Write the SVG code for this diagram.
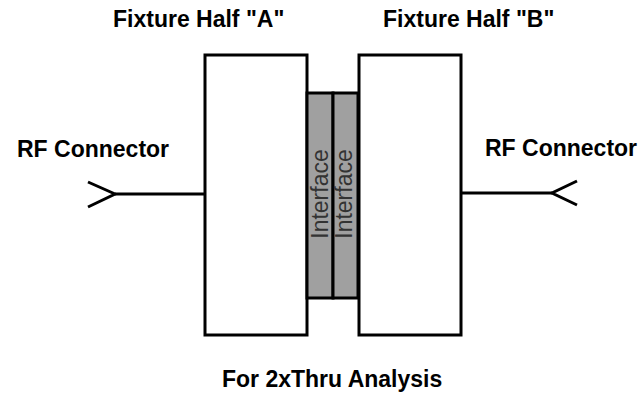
<svg xmlns="http://www.w3.org/2000/svg" width="641" height="395" viewBox="0 0 641 395">
<style>
.box{fill:#fff;stroke:#000;stroke-width:3}
.intf{fill:#a0a0a0;stroke:#000;stroke-width:3}
.wire{fill:none;stroke:#000;stroke-width:3}
.lbl{font-family:"Liberation Sans",Arial,sans-serif;font-weight:bold;font-size:23px;fill:#000}
.itxt{font-family:"Liberation Sans",Arial,sans-serif;font-size:23px;fill:#333;text-anchor:middle}
</style>
<rect width="641" height="395" fill="#fff"/>
<g id="connectors">
<path class="wire" d="M115,194 H205"/>
<path class="wire" d="M88,182 L115,194 L88,207"/>
<path class="wire" d="M461,193 H552"/>
<path class="wire" d="M577,181 L552,193 L577,205"/>
</g>
<g id="fixtureA">
<rect class="box" x="205" y="55" width="102" height="280"/>
<text class="lbl" x="113" y="27">Fixture Half "A"</text>
</g>
<g id="interfaceA">
<rect class="intf" x="307" y="93" width="26" height="205"/>
<text class="itxt" transform="translate(328,194) rotate(-90)">Interface</text>
</g>
<g id="interfaceB">
<rect class="intf" x="333" y="93" width="25" height="205"/>
<text class="itxt" transform="translate(352,194) rotate(-90)">Interface</text>
</g>
<g id="fixtureB">
<rect class="box" x="359" y="55" width="102" height="280"/>
<text class="lbl" x="383" y="27">Fixture Half "B"</text>
</g>
<g id="rfLeft">
<text class="lbl" x="17" y="157">RF Connector</text>
</g>
<g id="rfRight">
<text class="lbl" x="485" y="156">RF Connector</text>
</g>
<g id="caption">
<text class="lbl" x="222" y="387">For 2xThru Analysis</text>
</g>
</svg>
